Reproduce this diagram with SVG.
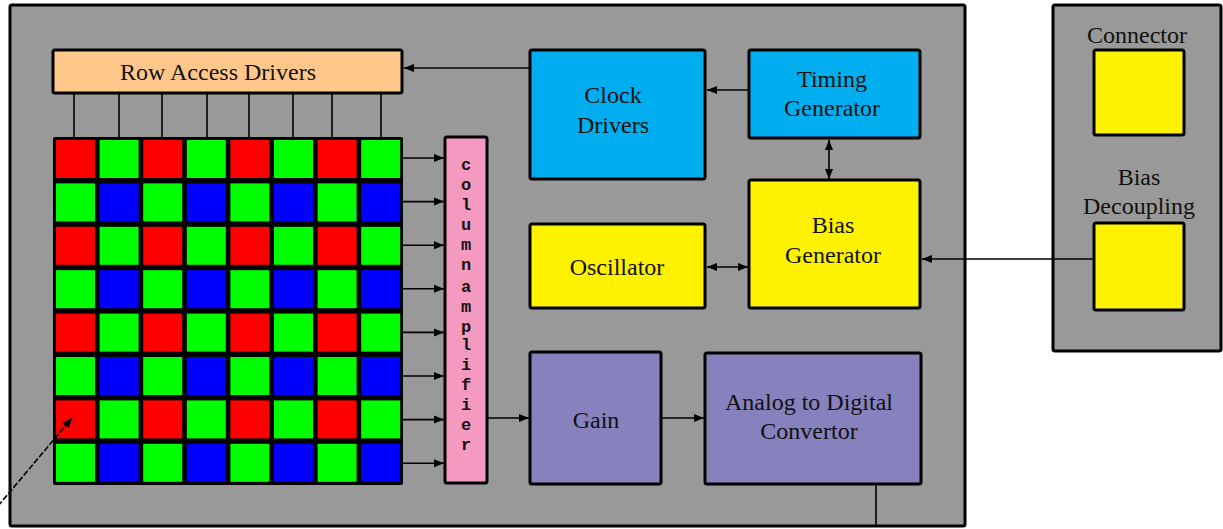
<svg xmlns="http://www.w3.org/2000/svg" width="1223" height="529" viewBox="0 0 1223 529">
<style>
.box{stroke:#000;stroke-width:3}
.frame{fill:#999999;stroke:#000;stroke-width:3}
.lbl{font-family:"Liberation Serif","Times New Roman",serif;font-size:24px;fill:#111;text-anchor:middle}
.amp{font-family:"Liberation Mono","Courier New",monospace;font-size:17px;font-weight:bold;fill:#111;text-anchor:middle}
.ln{stroke:#000;stroke-width:1.6;fill:none}
.r{fill:#ff0000}.g{fill:#00ff00}.b{fill:#0000ff}
</style>
<defs>
<marker id="ah" markerUnits="userSpaceOnUse" markerWidth="12" markerHeight="10" refX="10" refY="5" orient="auto">
<path d="M0,1 L10,5 L0,9 z" fill="#000"/>
</marker>
<marker id="as" markerUnits="userSpaceOnUse" markerWidth="12" markerHeight="10" refX="0" refY="5" orient="auto">
<path d="M10,1 L0,5 L10,9 z" fill="#000"/>
</marker>
</defs>
<rect width="1223" height="529" fill="#ffffff"/>
<g id="chip">
<rect class="frame" x="10" y="5" width="955" height="521" rx="2"/>
</g>
<g id="external">
<rect class="frame" x="1053" y="5" width="168" height="346" rx="2"/>
</g>
<g id="row-access-drivers">
<rect class="box" x="53" y="50" width="349" height="43" rx="2" fill="#ffc88a"/>
<text class="lbl" x="218" y="80">Row Access Drivers</text>
</g>
<g id="pixel-array">
<rect x="53" y="137" width="350" height="348" rx="2" fill="#000"/>
<g id="cells">
<rect class="r" x="56" y="140" width="39" height="38"/><rect class="g" x="99.6" y="140" width="39" height="38"/><rect class="r" x="143.2" y="140" width="39" height="38"/><rect class="g" x="186.8" y="140" width="39" height="38"/><rect class="r" x="230.4" y="140" width="39" height="38"/><rect class="g" x="274" y="140" width="39" height="38"/><rect class="r" x="317.6" y="140" width="39" height="38"/><rect class="g" x="361.2" y="140" width="39" height="38"/>
<rect class="g" x="56" y="183.4" width="39" height="38"/><rect class="b" x="99.6" y="183.4" width="39" height="38"/><rect class="g" x="143.2" y="183.4" width="39" height="38"/><rect class="b" x="186.8" y="183.4" width="39" height="38"/><rect class="g" x="230.4" y="183.4" width="39" height="38"/><rect class="b" x="274" y="183.4" width="39" height="38"/><rect class="g" x="317.6" y="183.4" width="39" height="38"/><rect class="b" x="361.2" y="183.4" width="39" height="38"/>
<rect class="r" x="56" y="226.8" width="39" height="38"/><rect class="g" x="99.6" y="226.8" width="39" height="38"/><rect class="r" x="143.2" y="226.8" width="39" height="38"/><rect class="g" x="186.8" y="226.8" width="39" height="38"/><rect class="r" x="230.4" y="226.8" width="39" height="38"/><rect class="g" x="274" y="226.8" width="39" height="38"/><rect class="r" x="317.6" y="226.8" width="39" height="38"/><rect class="g" x="361.2" y="226.8" width="39" height="38"/>
<rect class="g" x="56" y="270.2" width="39" height="38"/><rect class="b" x="99.6" y="270.2" width="39" height="38"/><rect class="g" x="143.2" y="270.2" width="39" height="38"/><rect class="b" x="186.8" y="270.2" width="39" height="38"/><rect class="g" x="230.4" y="270.2" width="39" height="38"/><rect class="b" x="274" y="270.2" width="39" height="38"/><rect class="g" x="317.6" y="270.2" width="39" height="38"/><rect class="b" x="361.2" y="270.2" width="39" height="38"/>
<rect class="r" x="56" y="313.6" width="39" height="38"/><rect class="g" x="99.6" y="313.6" width="39" height="38"/><rect class="r" x="143.2" y="313.6" width="39" height="38"/><rect class="g" x="186.8" y="313.6" width="39" height="38"/><rect class="r" x="230.4" y="313.6" width="39" height="38"/><rect class="g" x="274" y="313.6" width="39" height="38"/><rect class="r" x="317.6" y="313.6" width="39" height="38"/><rect class="g" x="361.2" y="313.6" width="39" height="38"/>
<rect class="g" x="56" y="357" width="39" height="38"/><rect class="b" x="99.6" y="357" width="39" height="38"/><rect class="g" x="143.2" y="357" width="39" height="38"/><rect class="b" x="186.8" y="357" width="39" height="38"/><rect class="g" x="230.4" y="357" width="39" height="38"/><rect class="b" x="274" y="357" width="39" height="38"/><rect class="g" x="317.6" y="357" width="39" height="38"/><rect class="b" x="361.2" y="357" width="39" height="38"/>
<rect class="r" x="56" y="400.4" width="39" height="38"/><rect class="g" x="99.6" y="400.4" width="39" height="38"/><rect class="r" x="143.2" y="400.4" width="39" height="38"/><rect class="g" x="186.8" y="400.4" width="39" height="38"/><rect class="r" x="230.4" y="400.4" width="39" height="38"/><rect class="g" x="274" y="400.4" width="39" height="38"/><rect class="r" x="317.6" y="400.4" width="39" height="38"/><rect class="g" x="361.2" y="400.4" width="39" height="38"/>
<rect class="g" x="56" y="443.8" width="39" height="38"/><rect class="b" x="99.6" y="443.8" width="39" height="38"/><rect class="g" x="143.2" y="443.8" width="39" height="38"/><rect class="b" x="186.8" y="443.8" width="39" height="38"/><rect class="g" x="230.4" y="443.8" width="39" height="38"/><rect class="b" x="274" y="443.8" width="39" height="38"/><rect class="g" x="317.6" y="443.8" width="39" height="38"/><rect class="b" x="361.2" y="443.8" width="39" height="38"/>
</g>
</g>
<g id="column-amplifier">
<rect class="box" x="445" y="137" width="42" height="346" rx="2" fill="#f49ac1"/>
<text class="amp"><tspan x="466" y="170">c</tspan><tspan x="466" y="190">o</tspan><tspan x="466" y="210">l</tspan><tspan x="466" y="230">u</tspan><tspan x="466" y="250">m</tspan><tspan x="466" y="270">n</tspan><tspan x="466" y="292">a</tspan><tspan x="466" y="312">m</tspan><tspan x="466" y="332">p</tspan><tspan x="466" y="350">l</tspan><tspan x="466" y="370">i</tspan><tspan x="466" y="390">f</tspan><tspan x="466" y="410">i</tspan><tspan x="466" y="430">e</tspan><tspan x="466" y="450">r</tspan></text>
</g>
<g id="clock-drivers">
<rect class="box" x="530" y="50" width="175" height="129" rx="2" fill="#00aeef"/>
<text class="lbl" x="613" y="103">Clock</text>
<text class="lbl" x="613" y="133">Drivers</text>
</g>
<g id="timing-generator">
<rect class="box" x="749" y="50" width="171" height="88" rx="2" fill="#00aeef"/>
<text class="lbl" x="832" y="87">Timing</text>
<text class="lbl" x="832" y="116">Generator</text>
</g>
<g id="bias-generator">
<rect class="box" x="749" y="180" width="171" height="128" rx="2" fill="#fff200"/>
<text class="lbl" x="833" y="233">Bias</text>
<text class="lbl" x="833" y="263">Generator</text>
</g>
<g id="oscillator">
<rect class="box" x="530" y="224" width="175" height="84" rx="2" fill="#fff200"/>
<text class="lbl" x="617" y="275">Oscillator</text>
</g>
<g id="gain">
<rect class="box" x="530" y="352" width="131" height="132" rx="2" fill="#8781bd"/>
<text class="lbl" x="596" y="428">Gain</text>
</g>
<g id="adc">
<rect class="box" x="705" y="353" width="216" height="131" rx="2" fill="#8781bd"/>
<text class="lbl" x="809" y="410">Analog to Digital</text>
<text class="lbl" x="809" y="439">Convertor</text>
</g>
<g id="connector-pad">
<text class="lbl" x="1137" y="43">Connector</text>
<rect class="box" x="1094" y="50" width="90" height="85" rx="2" fill="#fff200"/>
</g>
<g id="bias-decoupling">
<text class="lbl" x="1139" y="185">Bias</text>
<text class="lbl" x="1139" y="214">Decoupling</text>
<rect class="box" x="1094" y="223" width="90" height="87" rx="2" fill="#fff200"/>
</g>
<g id="connectors">
<line class="ln" x1="74" y1="94" x2="74" y2="137"/>
<line class="ln" x1="119" y1="94" x2="119" y2="137"/>
<line class="ln" x1="162" y1="94" x2="162" y2="137"/>
<line class="ln" x1="207" y1="94" x2="207" y2="137"/>
<line class="ln" x1="249" y1="94" x2="249" y2="137"/>
<line class="ln" x1="293" y1="94" x2="293" y2="137"/>
<line class="ln" x1="332" y1="94" x2="332" y2="137"/>
<line class="ln" x1="381" y1="94" x2="381" y2="137"/>
<line class="ln" x1="403" y1="158" x2="444" y2="158" marker-end="url(#ah)"/>
<line class="ln" x1="403" y1="201.6" x2="444" y2="201.6" marker-end="url(#ah)"/>
<line class="ln" x1="403" y1="245.2" x2="444" y2="245.2" marker-end="url(#ah)"/>
<line class="ln" x1="403" y1="288.8" x2="444" y2="288.8" marker-end="url(#ah)"/>
<line class="ln" x1="403" y1="332.4" x2="444" y2="332.4" marker-end="url(#ah)"/>
<line class="ln" x1="403" y1="376" x2="444" y2="376" marker-end="url(#ah)"/>
<line class="ln" x1="403" y1="419.6" x2="444" y2="419.6" marker-end="url(#ah)"/>
<line class="ln" x1="403" y1="463.2" x2="444" y2="463.2" marker-end="url(#ah)"/>
<line class="ln" x1="530" y1="68" x2="404" y2="68" marker-end="url(#ah)"/>
<line class="ln" x1="749" y1="90" x2="707" y2="90" marker-end="url(#ah)"/>
<line class="ln" x1="829" y1="140" x2="829" y2="179" marker-start="url(#as)" marker-end="url(#ah)"/>
<line class="ln" x1="707" y1="267" x2="748" y2="267" marker-start="url(#as)" marker-end="url(#ah)"/>
<line class="ln" x1="1094" y1="259" x2="922" y2="259" marker-end="url(#ah)"/>
<line class="ln" x1="488" y1="418" x2="529" y2="418" marker-end="url(#ah)"/>
<line class="ln" x1="662" y1="418" x2="704" y2="418" marker-end="url(#ah)"/>
<line class="ln" x1="876" y1="485" x2="876" y2="525"/>
<line class="ln" x1="-2" y1="506" x2="72" y2="418" stroke-dasharray="6,2" marker-end="url(#ah)"/>
</g>
</svg>
